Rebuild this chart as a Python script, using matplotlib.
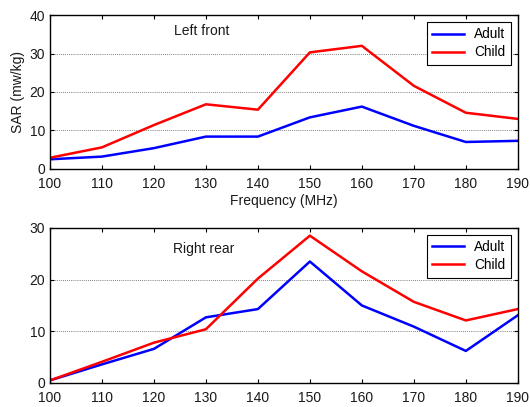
import matplotlib
matplotlib.use("Agg")
import matplotlib.pyplot as plt

freq = [100, 110, 120, 130, 140, 150, 160, 170, 180, 190]
adult_front = [2.5, 3.2, 5.4, 8.4, 8.4, 13.4, 16.2, 11.2, 7.0, 7.3]
child_front = [2.9, 5.6, 11.4, 16.8, 15.4, 30.3, 32.0, 21.6, 14.6, 13.0]
adult_rear = [0.5, 3.6, 6.6, 12.7, 14.3, 23.5, 15.0, 10.9, 6.2, 13.1]
child_rear = [0.5, 4.1, 7.8, 10.4, 20.2, 28.5, 21.6, 15.7, 12.1, 14.3]
xticks = [100, 110, 120, 130, 140, 150, 160, 170, 180, 190]

plt.rcParams['font.family'] = ['Liberation Sans', 'DejaVu Sans']

fig = plt.figure(figsize=(5.3, 4.07), dpi=100)
ax1 = fig.add_axes([0.0943, 0.585, 0.8827, 0.378])
ax2 = fig.add_axes([0.0943, 0.059, 0.8827, 0.381])

def style(ax, ymax, yt):
    ax.set_xlim(100, 190)
    ax.set_ylim(0, ymax)
    ax.set_xticks(xticks)
    ax.set_yticks(yt)
    ax.tick_params(direction='in', top=True, right=True, labelsize=10, length=3,
                   width=0.8, labelcolor='#1a1a1a')
    ax.tick_params(axis='y', pad=3.5)
    ax.tick_params(axis='x', pad=5.5)
    for t in yt[1:-1]:
        ax.axhline(t, color='#555555', lw=0.6, ls=(0, (1, 1.5)), zorder=0)
    for s in ax.spines.values():
        s.set_linewidth(1.0)

ax1.plot(freq, adult_front, color='#0000ff', lw=1.8, label='Adult')
ax1.plot(freq, child_front, color='#ff0000', lw=1.8, label='Child')
style(ax1, 40, [0, 10, 20, 30, 40])
ax1.set_ylabel('SAR (mw/kg)', fontsize=10, labelpad=3, color='#1a1a1a')
ax1.set_xlabel('Frequency (MHz)', fontsize=10, labelpad=2.5, color='#1a1a1a')
ax1.text(129.2, 35.8, 'Left front', fontsize=10, ha='center', va='center', color='#1a1a1a')
leg1 = ax1.legend(loc='upper right', fontsize=9.8, fancybox=False, edgecolor='black',
                  framealpha=1, handlelength=2.3, borderaxespad=0.5, labelspacing=0.3)
leg1.get_frame().set_linewidth(0.8)

ax2.plot(freq, adult_rear, color='#0000ff', lw=1.8, label='Adult')
ax2.plot(freq, child_rear, color='#ff0000', lw=1.8, label='Child')
style(ax2, 30, [0, 10, 20, 30])
ax2.text(129.5, 26.0, 'Right rear', fontsize=10, ha='center', va='center', color='#1a1a1a')
leg2 = ax2.legend(loc='upper right', fontsize=9.8, fancybox=False, edgecolor='black',
                  framealpha=1, handlelength=2.3, borderaxespad=0.5, labelspacing=0.3)
leg2.get_frame().set_linewidth(0.8)

fig.savefig('out.png', dpi=100)
